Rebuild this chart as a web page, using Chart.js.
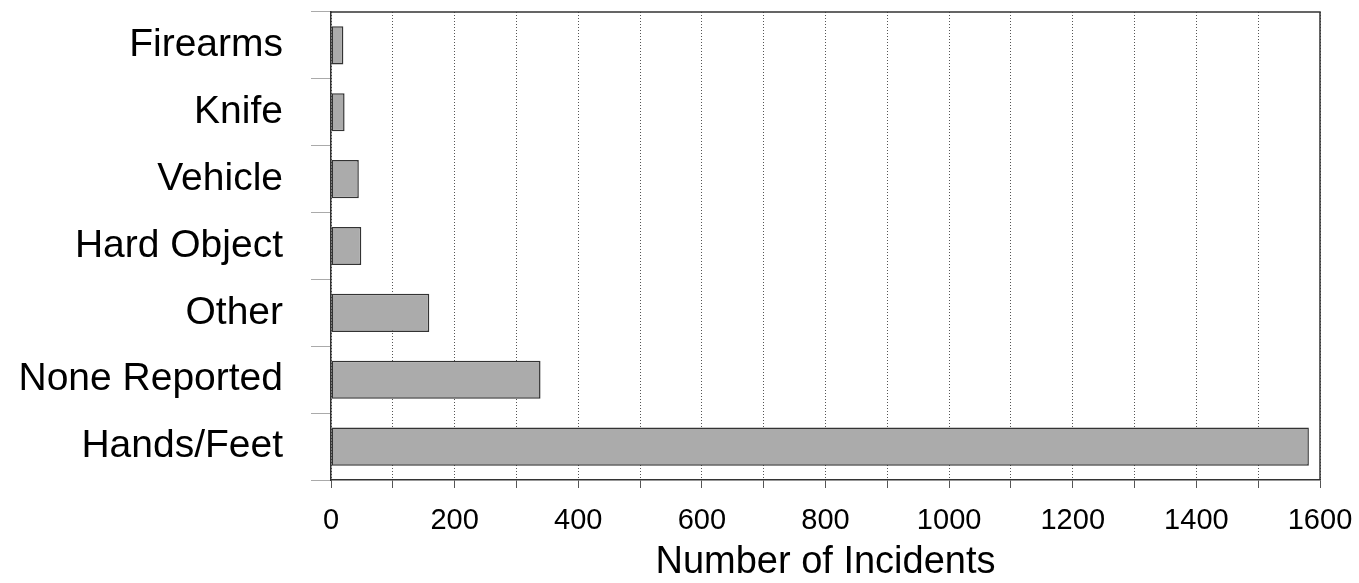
<!DOCTYPE html>
<html>
<head>
<meta charset="utf-8">
<script src="https://cdn.jsdelivr.net/npm/chart.js@4/dist/chart.umd.min.js"></script>
<style>
  html, body { margin: 0; padding: 0; background: #fff; }
  #wrap { width: 1359px; height: 583px; position: relative; }
</style>
</head>
<body>
<div id="wrap"><canvas id="chart"></canvas></div>
<script>
// Data
const categories = ['Firearms', 'Knife', 'Vehicle', 'Hard Object', 'Other', 'None Reported', 'Hands/Feet'];
const incidents = [20, 22, 45, 49, 159, 339, 1582];
const tickLabels = [0, 200, 400, 600, 800, 1000, 1200, 1400, 1600];

const FONT = '"Liberation Sans", Arial, sans-serif';

// draws the top and right edges of the plot frame
const frame = {
    id: 'frame',
    afterDraw(chart) {
        const { ctx, chartArea: a } = chart;
        ctx.save();
        ctx.strokeStyle = '#333';
        ctx.lineWidth = 1.5;
        ctx.beginPath();
        ctx.moveTo(a.left, a.top);
        ctx.lineTo(a.right, a.top);
        ctx.lineTo(a.right, a.bottom);
        ctx.stroke();
        ctx.restore();
    }
};

new Chart(document.getElementById('chart').getContext('2d'), {
    type: 'bar',
    data: {
        labels: categories,
        datasets: [{
            data: incidents,
            backgroundColor: '#ababab',
            borderColor: '#333',
            borderWidth: 1.5,
            borderSkipped: false,
            barPercentage: 0.57,
            categoryPercentage: 1
        }]
    },
    options: {
        indexAxis: 'y',
        responsive: true,
        maintainAspectRatio: false,
        animation: false,
        layout: { padding: { top: 12, right: 39, left: 0, bottom: 0 } },
        plugins: {
            legend: { display: false },
            tooltip: { enabled: false }
        },
        scales: {
            x: {
                min: 0,
                max: 1600,
                afterFit: s => {
                    s.height = 103;
                    s.paddingLeft = 0;
                    s.paddingRight = 0;
                },
                ticks: {
                    stepSize: 100,
                    autoSkip: false,
                    maxRotation: 0,
                    padding: 16,
                    color: '#000',
                    font: { family: FONT, size: 29 },
                    callback: v => tickLabels.includes(v) ? String(v) : ''
                },
                grid: {
                    color: '#555',
                    lineWidth: 1,
                    tickLength: 8
                },
                border: { color: '#333', width: 1.5, dash: [1, 2] },
                title: {
                    display: true,
                    text: 'Number of Incidents',
                    color: '#000',
                    font: { family: FONT, size: 38, lineHeight: 1.1 },
                    padding: { top: 0, bottom: 0 }
                }
            },
            y: {
                afterFit: s => {
                    s.width = 331;
                    s.paddingTop = 0;
                    s.paddingBottom = 0;
                },
                ticks: {
                    padding: 28,
                    color: '#000',
                    font: { family: FONT, size: 39 }
                },
                grid: {
                    drawOnChartArea: false,
                    color: '#aaa',
                    tickLength: 20
                },
                border: { color: '#333', width: 1.5, dash: [1, 2] }
            }
        }
    },
    plugins: [frame]
});
</script>
</body>
</html>
